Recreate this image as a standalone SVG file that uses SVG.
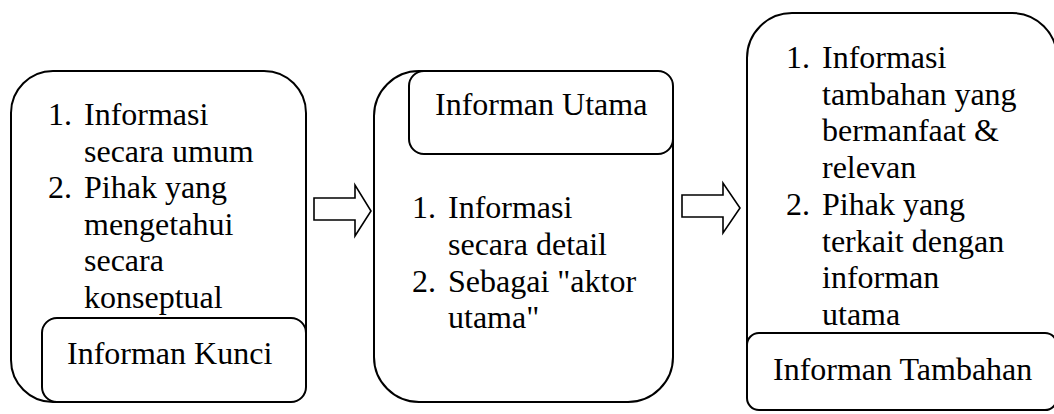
<svg xmlns="http://www.w3.org/2000/svg" width="1054" height="414" viewBox="0 0 1054 414">
  <style>
    .box { fill: #fff; stroke: #000; stroke-width: 2; }
    .arrow { fill: #fff; stroke: #000; stroke-width: 1.6; stroke-linejoin: miter; }
    text { font-family: "Liberation Serif", "Times New Roman", serif; font-size: 32px; fill: #000; }
  </style>
  <rect width="1054" height="414" fill="#fff"/>

  <!-- Key informant -->
  <g id="informan-kunci">
    <rect class="box" x="11" y="71" width="295" height="331" rx="42" ry="42"/>
    <text x="48" y="125">1.</text>
    <text x="84" y="125">Informasi</text>
    <text x="84" y="161.5">secara umum</text>
    <text x="48" y="198">2.</text>
    <text x="84" y="198">Pihak yang</text>
    <text x="84" y="234.5">mengetahui</text>
    <text x="84" y="271">secara</text>
    <text x="84" y="307.5">konseptual</text>
    <rect class="box" x="42" y="318" width="264" height="84" rx="15" ry="15"/>
    <text x="67" y="364">Informan Kunci</text>
  </g>

  <!-- Main informant -->
  <g id="informan-utama">
    <rect class="box" x="374" y="71" width="299" height="331" rx="45" ry="45"/>
    <rect class="box" x="409" y="71" width="264" height="83" rx="15" ry="15"/>
    <text x="435" y="115">Informan Utama</text>
    <text x="412" y="218">1.</text>
    <text x="448" y="218">Informasi</text>
    <text x="448" y="255">secara detail</text>
    <text x="412" y="292">2.</text>
    <text x="448" y="292">Sebagai "aktor</text>
    <text x="448" y="328">utama"</text>
  </g>

  <!-- Supporting informant -->
  <g id="informan-tambahan">
    <rect class="box" x="747" y="13" width="310" height="397" rx="45" ry="45"/>
    <text x="786" y="68">1.</text>
    <text x="822" y="68">Informasi</text>
    <text x="822" y="104.7">tambahan yang</text>
    <text x="822" y="141.4">bermanfaat &amp;</text>
    <text x="822" y="178">relevan</text>
    <text x="786" y="214.8">2.</text>
    <text x="822" y="214.8">Pihak yang</text>
    <text x="822" y="251.5">terkait dengan</text>
    <text x="822" y="288">informan</text>
    <text x="822" y="325">utama</text>
    <rect class="box" x="747" y="333" width="310" height="77" rx="12" ry="12"/>
    <text x="773" y="380">Informan Tambahan</text>
  </g>

  <!-- Block arrows between stages -->
  <g id="connectors">
    <polygon class="arrow" points="314,198 355,198 355,185 371,211 355,236 355,220 314,220"/>
    <polygon class="arrow" points="682,195 723,195 723,183 740,208 723,233 723,217 682,217"/>
  </g>
</svg>
